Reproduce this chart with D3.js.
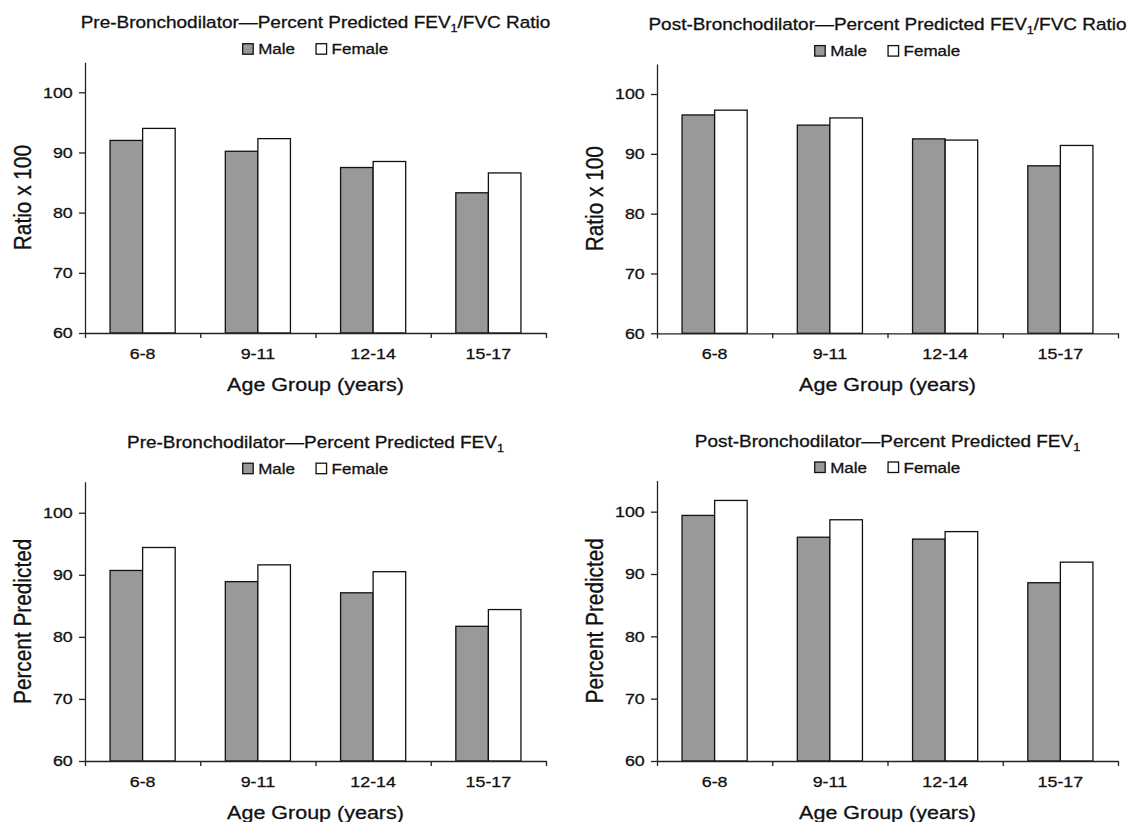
<!DOCTYPE html>
<html>
<head>
<meta charset="utf-8">
<script src="https://cdn.jsdelivr.net/npm/d3@7"></script>
<style>
  html, body { margin: 0; padding: 0; background: #fff; }
  svg { display: block; }
  text { fill: #111; stroke: #111; stroke-width: 0.3px; font-family: "Liberation Sans", Arial, Helvetica, sans-serif; }
</style>
</head>
<body>
<svg id="chart" width="1130" height="822"></svg>
<script>
const ageGroups = ['6-8', '9-11', '12-14', '15-17'];
const sexes = ['Male', 'Female'];
const yTicks = [60, 70, 80, 90, 100];

const preRatioMale = [92.0, 90.2, 87.5, 83.3];
const preRatioFemale = [94.0, 92.3, 88.5, 86.6];
const postRatioMale = [96.5, 94.8, 92.5, 88.0];
const postRatioFemale = [97.3, 96.0, 92.3, 91.4];
const preFev1Male = [90.7, 88.9, 87.1, 81.7];
const preFev1Female = [94.4, 91.6, 90.5, 84.4];
const postFev1Male = [99.4, 95.9, 95.6, 88.6];
const postFev1Female = [101.8, 98.7, 96.8, 91.9];

const xLabel = 'Age Group (years)';

// the source figure is a little wider than tall, so text gets stretched too
const SX = 1.15;
const fills = { Male: '#999999', Female: '#ffffff' };

const svg = d3.select('#chart');

const panels = [
  { pre: 'Pre-Bronchodilator—Percent Predicted FEV', post: '/FVC Ratio', yLabel: 'Ratio x 100',
    male: preRatioMale, female: preRatioFemale, xr: [85, 546], yr: [333, 62.2] },
  { pre: 'Post-Bronchodilator—Percent Predicted FEV', post: '/FVC Ratio', yLabel: 'Ratio x 100',
    male: postRatioMale, female: postRatioFemale, xr: [657, 1118], yr: [333.3, 64.1] },
  { pre: 'Pre-Bronchodilator—Percent Predicted FEV', post: '', yLabel: 'Percent Predicted',
    male: preFev1Male, female: preFev1Female, xr: [85, 546], yr: [761, 481.7] },
  { pre: 'Post-Bronchodilator—Percent Predicted FEV', post: '', yLabel: 'Percent Predicted',
    male: postFev1Male, female: postFev1Female, xr: [657, 1118], yr: [761, 480.5] }
];

function styleAxis(g) {
  g.attr('font-family', null).attr('font-size', null);
  g.selectAll('.domain, .tick line').attr('stroke', '#222').attr('stroke-width', 1.3);
  g.selectAll('text').style('font-size', '15.5px').attr('fill', '#111')
    .attr('transform', `scale(${SX},1)`);
}

function drawLegend(g, cx, baseline) {
  const lg = g.append('g');
  let x = 0;
  sexes.forEach((s, i) => {
    lg.append('rect')
      .attr('x', x).attr('y', baseline - 10.5)
      .attr('width', 10.5).attr('height', 10.5)
      .attr('fill', fills[s]).attr('stroke', '#111').attr('stroke-width', 1.3);
    x += 10.5 + 5;
    const t = lg.append('text')
      .attr('transform', `translate(${x},${baseline}) scale(${SX},1)`)
      .style('font-size', '14.8px')
      .text(s);
    x += t.node().getComputedTextLength() * SX;
    if (i === 0) x += 21;
  });
  lg.attr('transform', `translate(${cx - x / 2},0)`);
}

function drawPanel(p) {
  const g = svg.append('g');
  const x0 = d3.scaleBand().domain(ageGroups).range(p.xr).paddingInner(0).paddingOuter(0);
  const x1 = d3.scaleBand().domain(sexes).range([0, x0.bandwidth()])
    .paddingInner(0).paddingOuter(0.77);
  const y = d3.scaleLinear().domain([60, 105]).range(p.yr);
  const cx = (p.xr[0] + p.xr[1]) / 2;
  const top = p.yr[1];

  const rows = ageGroups.map((a, i) => ({ age: a, Male: p.male[i], Female: p.female[i] }));

  // bars
  g.append('g').selectAll('g')
    .data(rows)
    .join('g')
      .attr('transform', d => `translate(${x0(d.age)},0)`)
    .selectAll('rect')
    .data(d => sexes.map(s => ({ key: s, value: d[s] })))
    .join('rect')
      .attr('x', d => x1(d.key))
      .attr('y', d => y(d.value))
      .attr('width', x1.bandwidth())
      .attr('height', d => y(60) - y(d.value))
      .attr('fill', d => fills[d.key])
      .attr('stroke', '#111')
      .attr('stroke-width', 1.3);

  // y axis
  g.append('g')
    .attr('transform', `translate(${p.xr[0]},0)`)
    .call(d3.axisLeft(y).tickValues(yTicks).tickSizeInner(6).tickSizeOuter(0).tickPadding(4.7))
    .call(styleAxis);

  // x axis: ticks sit on the group boundaries
  const xb = d3.scaleLinear().domain([0, ageGroups.length]).range(p.xr);
  g.append('g')
    .attr('transform', `translate(0,${p.yr[0]})`)
    .call(d3.axisBottom(xb).tickValues(d3.range(ageGroups.length + 1))
      .tickSizeInner(5).tickSizeOuter(0).tickFormat(''))
    .call(styleAxis);

  g.append('g')
    .attr('transform', `translate(0,${p.yr[0]})`)
    .call(d3.axisBottom(x0).tickSize(0).tickPadding(14.6))
    .call(s => s.select('.domain').remove())
    .call(styleAxis);

  // title
  const title = g.append('text')
    .attr('text-anchor', 'middle')
    .attr('transform', `translate(${cx},${top - 33.8}) scale(${SX},1)`)
    .style('font-size', '16.5px');
  title.append('tspan').text(p.pre);
  title.append('tspan').attr('dy', 4).style('font-size', '11px').text('1');
  if (p.post) title.append('tspan').attr('dy', -4).text(p.post);

  drawLegend(g, cx, top - 8);

  // axis labels
  g.append('text')
    .attr('text-anchor', 'middle')
    .attr('transform', `translate(${cx},${p.yr[0] + 57.5}) scale(${SX},1)`)
    .style('font-size', '18.7px')
    .text(xLabel);

  g.append('text')
    .attr('text-anchor', 'middle')
    .attr('transform', `translate(${p.xr[0] - 54},${(p.yr[0] + top) / 2}) rotate(-90) scale(1,${SX})`)
    .style('font-size', '20.8px')
    .text(p.yLabel);
}

panels.forEach(drawPanel);
</script>
</body>
</html>
